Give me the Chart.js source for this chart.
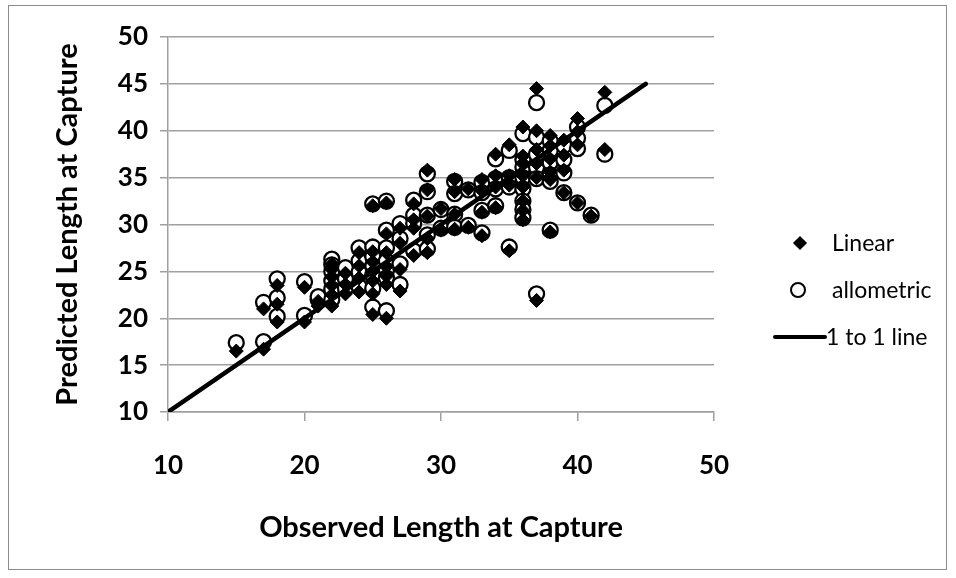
<!DOCTYPE html>
<html>
<head>
<meta charset="utf-8">
<script src="https://cdn.jsdelivr.net/npm/chart.js@4/dist/chart.umd.min.js"></script>
<style>
  html, body { margin: 0; padding: 0; background: #fff; }
  #wrap { position: relative; width: 956px; height: 578px; overflow: hidden; }
  #frame { position: absolute; left: 8px; top: 5px; width: 939px; height: 565px; border: 1px solid #8c8c8c; box-sizing: border-box; }
  canvas { position: absolute; left: 0; top: 0; }
  #legend { position: absolute; left: 760px; top: 222px; font-family: Lato, "Open Sans", sans-serif; font-size: 23px; color: #000; }
  .item { position: absolute; left: 0; height: 30px; width: 200px; }
  .item span { position: absolute; left: 72px; top: 50%; transform: translateY(-52%); white-space: nowrap; }
  .mk { position: absolute; }
  .diamond { left: 35px; top: 10px; width: 10px; height: 10px; background: #000; transform: rotate(45deg); }
  .circle { left: 30px; top: 7px; width: 12px; height: 12px; border: 2px solid #000; border-radius: 50%; background: #fff; }
  .line { left: 13px; top: 13px; width: 54px; height: 4px; background: #000; border-radius: 2px; }
</style>
</head>
<body>
<div id="wrap">
  <div id="frame"></div>
  <canvas id="c" width="956" height="578"></canvas>
  <div id="legend">
    <div class="item" style="top:6px"><div class="mk diamond"></div><span>Linear</span></div>
    <div class="item" style="top:53px"><div class="mk circle"></div><span>allometric</span></div>
    <div class="item" style="top:100px"><div class="mk line"></div><span style="left:66px">1 to 1 line</span></div>
  </div>
</div>
<script>
// Observed length at capture for each fish, with the two model predictions
const observed = [
  15, 17, 17, 18, 18, 18, 20, 20, 21, 21,
  22, 22, 22, 22, 22, 22, 23, 23, 23,
  24, 24, 24, 24,
  25, 25, 25, 25, 25, 25, 25,
  26, 26, 26, 26, 26, 26, 26,
  27, 27, 27, 27,
  28, 28, 28, 28,
  29, 29, 29, 29, 29,
  30, 30,
  31, 31, 31, 31,
  32, 32,
  33, 33, 33, 33,
  34, 34, 34, 34,
  35, 35, 35, 35,
  36, 36, 36, 36, 36, 36, 36, 36,
  37, 37, 37, 37, 37, 37,
  38, 38, 38, 38, 38, 38,
  39, 39, 39, 39,
  40, 40, 40, 40,
  41,
  42, 42
];
const linearPred = [
  16.5, 16.7, 21.0, 23.5, 21.5, 19.6, 23.3, 19.6, 21.3, 21.8,
  25.8, 25.2, 24.4, 23.5, 22.5, 21.3, 24.8, 23.6, 22.6,
  27.0, 25.6, 24.3, 22.8,
  32.0, 27.1, 26.0, 25.0, 24.0, 22.6, 20.4,
  32.3, 29.0, 27.0, 25.5, 24.5, 23.6, 20.0,
  29.6, 28.0, 25.2, 22.9,
  32.2, 30.5, 29.6, 26.7,
  35.8, 33.7, 30.9, 28.5, 27.0,
  31.7, 29.4,
  34.8, 33.5, 31.1, 29.5,
  33.8, 29.7,
  34.8, 33.6, 31.3, 28.8,
  37.5, 35.2, 34.0, 31.8,
  38.5, 35.2, 34.2, 27.2,
  40.4, 37.3, 36.5, 35.2, 34.0, 32.5, 31.5, 30.5,
  44.5, 40.0, 38.0, 36.5, 35.0, 21.9,
  39.5, 38.4, 37.0, 35.6, 34.8, 29.2,
  39.0, 37.4, 35.8, 33.4,
  41.3, 39.9, 38.5, 32.3,
  30.9,
  44.1, 38.0
];
const allometricPred = [
  17.4, 17.5, 21.7, 24.2, 22.2, 20.2, 23.9, 20.3, 22.0, 22.3,
  26.3, 25.7, 25.0, 24.0, 23.1, 22.0, 25.4, 24.2, 23.2,
  27.5, 26.1, 24.9, 23.4,
  32.2, 27.6, 26.6, 25.6, 24.6, 23.2, 21.2,
  32.5, 29.4, 27.5, 26.1, 25.1, 24.3, 20.8,
  30.1, 28.5, 25.8, 23.6,
  32.6, 31.0, 30.1, 27.2,
  35.4, 33.5, 31.0, 28.9, 27.4,
  31.6, 29.6,
  34.6, 33.3, 31.1, 29.7,
  33.7, 29.9,
  34.5, 33.4, 31.5, 29.1,
  37.0, 34.9, 33.8, 32.0,
  37.9, 35.0, 34.0, 27.6,
  39.7, 36.9, 36.1, 35.0, 33.8, 32.5, 31.6, 30.7,
  43.0, 39.3, 37.5, 36.1, 34.9, 22.6,
  38.9, 37.9, 36.6, 35.3, 34.6, 29.4,
  38.4, 36.9, 35.5, 33.4,
  40.4, 39.2, 38.1, 32.3,
  31.0,
  42.7, 37.5
];
// Reference line where predicted equals observed
const lineX = [10, 45];
const lineY = [10, 45];

const xTicks = [10, 20, 30, 40, 50];
const yTicks = [10, 15, 20, 25, 30, 35, 40, 45, 50];

const toPoints = (xs, ys) => xs.map((x, i) => ({ x: x, y: ys[i] }));

const GRID = '#a0a0a0';
const FONT = 'Lato, "Open Sans", sans-serif';

new Chart(document.getElementById('c'), {
  type: 'scatter',
  data: {
    datasets: [
      {
        label: '1 to 1 line',
        data: toPoints(lineX, lineY),
        showLine: true,
        borderColor: '#000',
        borderWidth: 4.5,
        pointRadius: 0,
        borderCapStyle: 'round',
        order: 0
      },
      {
        label: 'Linear',
        data: toPoints(observed, linearPred),
        pointStyle: 'rectRot',
        pointRadius: 7,
        backgroundColor: '#000',
        borderColor: '#000',
        borderWidth: 1,
        order: 1
      },
      {
        label: 'allometric',
        data: toPoints(observed, allometricPred),
        pointStyle: 'circle',
        pointRadius: 7.5,
        backgroundColor: '#fff',
        borderColor: '#000',
        borderWidth: 2.3,
        order: 2
      }
    ]
  },
  options: {
    responsive: false,
    animation: false,
    devicePixelRatio: 1,
    layout: { padding: { left: 0, top: 37, right: 242, bottom: 0 } },
    plugins: { legend: { display: false }, tooltip: { enabled: false } },
    scales: {
      x: {
        type: 'linear',
        min: 10, max: 50,
        afterBuildTicks: s => { s.ticks = xTicks.map(v => ({ value: v })); },
        afterFit: s => { s.height = 166; },
        grid: { drawOnChartArea: false, drawTicks: true, tickLength: 9, color: GRID, lineWidth: 1.5 },
        border: { display: true, color: GRID, width: 1.5 },
        ticks: { color: '#000', padding: 29, font: { family: FONT, size: 26, weight: 'bold' } },
        title: {
          display: true, text: 'Observed Length at Capture', color: '#000',
          font: { family: FONT, size: 29, weight: 'bold' }, padding: { top: 0, bottom: 33 }
        }
      },
      y: {
        type: 'linear',
        min: 10, max: 50,
        afterBuildTicks: s => { s.ticks = yTicks.map(v => ({ value: v })); },
        afterFit: s => { s.width = 168; },
        grid: { drawTicks: true, tickLength: 8, color: GRID, lineWidth: 1.5 },
        border: { display: true, color: GRID, width: 1.5 },
        ticks: { color: '#000', padding: 12, font: { family: FONT, size: 26, weight: 'bold' } },
        title: {
          display: true, text: 'Predicted Length at Capture', color: '#000',
          font: { family: FONT, size: 29, weight: 'bold' }, padding: { top: 50, bottom: 0 }
        }
      }
    }
  }
});
</script>
</body>
</html>
